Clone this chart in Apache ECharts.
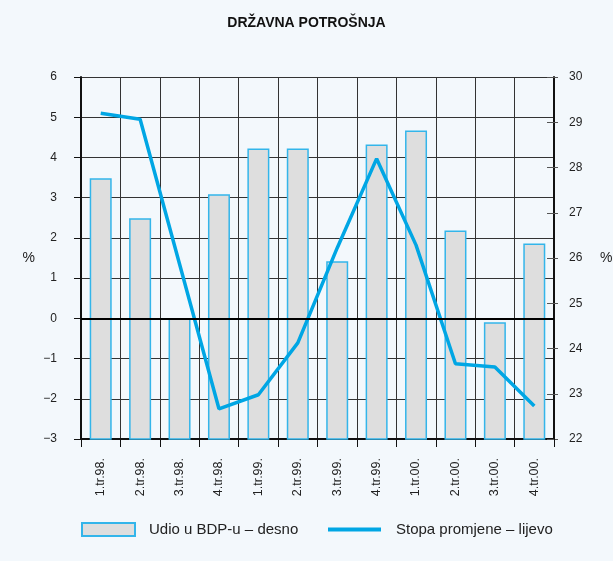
<!DOCTYPE html>
<html>
<head>
<meta charset="utf-8">
<script src="https://cdn.jsdelivr.net/npm/echarts@6/dist/echarts.min.js"></script>
<style>html,body{margin:0;padding:0;background:#f3f8fc;}#c{width:613px;height:561px;}</style>
</head>
<body>
<div id="c"></div>
<script>
var categories = ['1.tr.98.', '2.tr.98.', '3.tr.98.', '4.tr.98.', '1.tr.99.', '2.tr.99.', '3.tr.99.', '4.tr.99.', '1.tr.00.', '2.tr.00.', '3.tr.00.', '4.tr.00.'];
var udioBDP = [27.76, 26.88, 24.67, 27.41, 28.42, 28.42, 25.93, 28.51, 28.82, 26.61, 24.58, 26.32];
var stopaPromjene = [5.1, 4.95, 1.35, -2.25, -1.9, -0.61, 1.75, 3.97, 1.82, -1.13, -1.21, -2.18];
var titleText = 'DRŽAVNA POTROŠNJA';
var barName = 'Udio u BDP-u – desno';
var lineName = 'Stopa promjene – lijevo';

var FONT = 'Liberation Sans, Arial, sans-serif';
var LINE_COLOR = '#00a6e4';
var chart = echarts.init(document.getElementById('c'));
chart.setOption({
  backgroundColor: '#f3f8fc',
  animation: false,
  title: {
    text: titleText,
    left: 'center',
    top: 11,
    textStyle: { fontFamily: FONT, fontSize: 14, fontWeight: 'bold', color: '#111' }
  },
  legend: [{
    data: [{ name: barName, icon: 'rect' }],
    left: 81, top: 522, padding: 0,
    itemWidth: 53, itemHeight: 13,
    textStyle: { fontFamily: FONT, fontSize: 15, color: '#222', padding: [0, 0, 0, 9] }
  }, {
    data: [{ name: lineName, icon: 'rect', itemStyle: { color: LINE_COLOR } }],
    left: 328, top: 522, padding: 0,
    itemWidth: 53, itemHeight: 4,
    textStyle: { fontFamily: FONT, fontSize: 15, color: '#222', padding: [0, 0, 0, 10] }
  }],
  grid: { left: 81, right: 59, top: 77, bottom: 122, containLabel: false, outerBoundsMode: 'none' },
  xAxis: {
    type: 'category',
    data: categories,
    boundaryGap: true,
    axisLine: { onZero: false, lineStyle: { color: '#111', width: 2 } },
    axisTick: { show: true, length: 8, lineStyle: { color: '#111', width: 1 } },
    splitLine: { show: true, lineStyle: { color: '#333', width: 1 } },
    axisLabel: { rotate: 90, margin: 19, fontFamily: FONT, fontSize: 12.5, color: '#222', interval: 0 }
  },
  yAxis: [{
    type: 'value',
    min: -3, max: 6, interval: 1,
    name: '%', nameLocation: 'middle', nameGap: 46, nameRotate: 0,
    nameTextStyle: { fontFamily: FONT, fontSize: 14, color: '#222' },
    axisLine: { show: true, lineStyle: { color: '#111', width: 2 } },
    axisTick: { show: true, length: 7, lineStyle: { color: '#111' } },
    splitLine: { show: true, lineStyle: { color: '#333', width: 1 } },
    axisLabel: { margin: 24, fontFamily: FONT, fontSize: 12, color: '#222',
      formatter: function (v) { return v < 0 ? '\u2212' + Math.abs(v) : String(v); } }
  }, {
    type: 'value',
    position: 'right',
    min: 22, max: 30, interval: 1,
    name: '%', nameLocation: 'middle', nameGap: 46, nameRotate: 0,
    nameTextStyle: { fontFamily: FONT, fontSize: 14, color: '#222' },
    axisLine: { show: true, lineStyle: { color: '#111', width: 2 } },
    axisTick: { show: true, inside: true, length: 7, lineStyle: { color: '#555' } },
    splitLine: { show: false },
    axisLabel: { margin: 15, fontFamily: FONT, fontSize: 12, color: '#222' }
  }, {
    type: 'value',
    position: 'right',
    offset: 0,
    min: 22, max: 30, interval: 1,
    axisLine: { show: false },
    axisTick: { show: true, inside: false, length: 4, lineStyle: { color: '#555' } },
    splitLine: { show: false },
    axisLabel: { show: false }
  }],
  series: [{
    name: barName,
    type: 'bar',
    yAxisIndex: 1,
    data: udioBDP,
    barWidth: 22,
    clip: true,
    itemStyle: { color: '#dedede', borderColor: '#33b5ea', borderWidth: 1.5 }
  }, {
    name: lineName,
    type: 'line',
    yAxisIndex: 0,
    data: stopaPromjene,
    symbol: 'none',
    showSymbol: false,
    lineStyle: { color: LINE_COLOR, width: 3.5 },
    itemStyle: { color: LINE_COLOR },
    markLine: {
      silent: true,
      symbol: ['none', 'none'],
      label: { show: false },
      lineStyle: { color: '#000', width: 2, type: 'solid' },
      data: [{ yAxis: 0 }]
    }
  }]
});
</script>
</body>
</html>
